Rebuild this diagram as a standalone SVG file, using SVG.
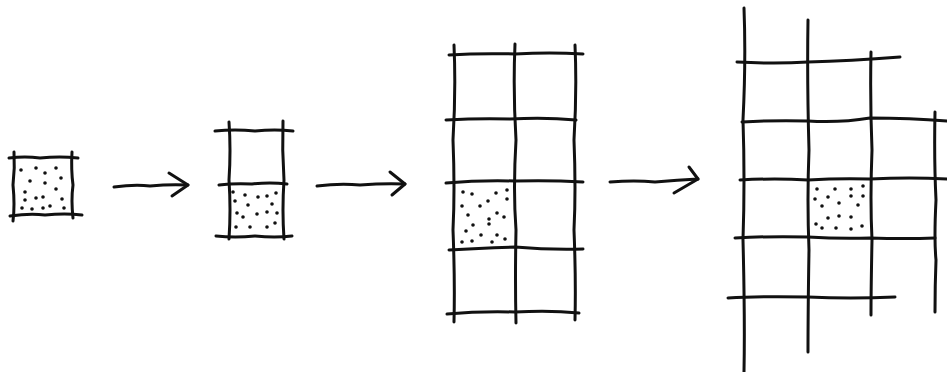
<svg xmlns="http://www.w3.org/2000/svg" width="947" height="372" viewBox="0 0 947 372">
<style>
.ln{fill:none;stroke:#111;stroke-width:3;stroke-linecap:round;stroke-linejoin:round}
.dt{fill:#111}
</style>
<defs>
<circle id="d" r="1.8"/>
</defs>
<rect width="947" height="372" fill="#fff"/>
<g id="stage1">
<path class="ln" d="M14 152 Q15 168 13 185 Q15 205 13 221"/>
<path class="ln" d="M72 152 Q71 170 73 185 Q71 200 73 218"/>
<path class="ln" d="M9 158 Q25 156 40 158 Q60 156 78 158"/>
<path class="ln" d="M10 216 Q30 213 45 215 Q65 213 82 215"/>
<g class="dt">
<use href="#d" x="21" y="170"/><use href="#d" x="36" y="168"/><use href="#d" x="56" y="168"/><use href="#d" x="45" y="173"/>
<use href="#d" x="30" y="181"/><use href="#d" x="61" y="178"/><use href="#d" x="45" y="183"/><use href="#d" x="56" y="189"/>
<use href="#d" x="25" y="192"/><use href="#d" x="25" y="200"/><use href="#d" x="36" y="198"/><use href="#d" x="43" y="197"/>
<use href="#d" x="62" y="199"/><use href="#d" x="22" y="208"/><use href="#d" x="32" y="209"/><use href="#d" x="43" y="208"/>
<use href="#d" x="50" y="206"/><use href="#d" x="64" y="208"/>
</g>
</g>
<g id="stage2">
<path class="ln" d="M229 122 Q231 150 229 180 Q231 210 229 239"/>
<path class="ln" d="M283 121 Q282 150 284 180 Q282 210 284 239"/>
<path class="ln" d="M215 131 Q235 129 255 131 Q275 129 293 131"/>
<path class="ln" d="M219 185 Q235 183 252 184 Q270 182 287 184"/>
<path class="ln" d="M216 236 Q235 238 255 236 Q275 238 292 236"/>
<g class="dt">
<use href="#d" x="233" y="192"/><use href="#d" x="245" y="195"/><use href="#d" x="258" y="197"/><use href="#d" x="267" y="196"/>
<use href="#d" x="276" y="193"/><use href="#d" x="235" y="201"/><use href="#d" x="248" y="205"/><use href="#d" x="272" y="204"/>
<use href="#d" x="237" y="213"/><use href="#d" x="243" y="217"/><use href="#d" x="257" y="214"/><use href="#d" x="267" y="212"/>
<use href="#d" x="277" y="213"/><use href="#d" x="236" y="227"/><use href="#d" x="250" y="227"/><use href="#d" x="267" y="227"/>
<use href="#d" x="275" y="223"/>
</g>
</g>
<g id="stage3">
<path class="ln" d="M454 45 Q456 90 453 140 Q455 190 453 230 Q455 280 454 322"/>
<path class="ln" d="M515 44 Q513 90 516 140 Q513 190 516 230 Q515 280 516 323"/>
<path class="ln" d="M575 45 Q577 90 574 140 Q576 190 574 230 Q576 280 575 320"/>
<path class="ln" d="M449 55 Q480 53 515 54 Q550 52 583 54"/>
<path class="ln" d="M446 120 Q480 118 510 119 Q545 117 576 120"/>
<path class="ln" d="M446 183 Q480 180 515 181 Q550 180 583 182"/>
<path class="ln" d="M449 250 Q480 248 515 247 Q550 250 583 249"/>
<path class="ln" d="M447 314 Q480 311 515 312 Q550 310 579 313"/>
<g class="dt">
<use href="#d" x="463" y="192"/><use href="#d" x="472" y="194"/><use href="#d" x="496" y="193"/><use href="#d" x="507" y="190"/>
<use href="#d" x="462" y="206"/><use href="#d" x="480" y="206"/><use href="#d" x="488" y="201"/><use href="#d" x="507" y="199"/>
<use href="#d" x="468" y="215"/><use href="#d" x="497" y="213"/><use href="#d" x="504" y="217"/><use href="#d" x="489" y="219"/>
<use href="#d" x="473" y="225"/><use href="#d" x="489" y="224"/><use href="#d" x="466" y="231"/><use href="#d" x="481" y="235"/>
<use href="#d" x="497" y="235"/><use href="#d" x="472" y="241"/><use href="#d" x="462" y="242"/><use href="#d" x="492" y="242"/>
<use href="#d" x="505" y="239"/>
</g>
</g>
<g id="stage4">
<path class="ln" d="M744 8 Q746 60 743 120 Q745 180 743 240 Q745 320 744 372"/>
<path class="ln" d="M808 20 Q807 80 809 150 Q807 200 809 250 Q808 310 808 352"/>
<path class="ln" d="M871 52 Q870 100 872 150 Q870 200 872 240 Q871 290 871 315"/>
<path class="ln" d="M935 112 Q934 160 936 200 Q934 240 936 260 Q935 285 935 312"/>
<path class="ln" d="M737 62 Q775 64 808 62 Q850 61 900 57"/>
<path class="ln" d="M742 122 Q775 120 808 121 Q840 123 870 118 Q910 118 947 121"/>
<path class="ln" d="M740 180 Q775 178 808 180 Q840 178 870 179 Q910 177 947 179"/>
<path class="ln" d="M735 238 Q770 236 808 237 Q840 239 870 238 Q905 239 935 238"/>
<path class="ln" d="M728 298 Q760 296 808 297 Q850 299 895 297"/>
<g class="dt">
<use href="#d" x="817" y="189"/><use href="#d" x="835" y="189"/><use href="#d" x="851" y="189"/><use href="#d" x="863" y="186"/>
<use href="#d" x="815" y="199"/><use href="#d" x="828" y="197"/><use href="#d" x="851" y="196"/><use href="#d" x="863" y="196"/>
<use href="#d" x="822" y="206"/><use href="#d" x="839" y="203"/><use href="#d" x="858" y="205"/><use href="#d" x="828" y="218"/>
<use href="#d" x="839" y="216"/><use href="#d" x="851" y="217"/><use href="#d" x="816" y="224"/><use href="#d" x="822" y="228"/>
<use href="#d" x="836" y="228"/><use href="#d" x="851" y="229"/><use href="#d" x="862" y="226"/>
</g>
</g>
<g id="connectors">
<path class="ln" d="M114 187 Q135 184 150 186 Q170 184 188 185"/>
<path class="ln" d="M169 173 L188 185 L172 196"/>
<path class="ln" d="M317 186 Q340 183 360 185 Q385 183 405 184"/>
<path class="ln" d="M390 172 L405 184 L392 195"/>
<path class="ln" d="M610 182 Q635 180 655 182 Q678 180 698 179"/>
<path class="ln" d="M689 167 L698 179 L674 193"/>
</g>
</svg>
